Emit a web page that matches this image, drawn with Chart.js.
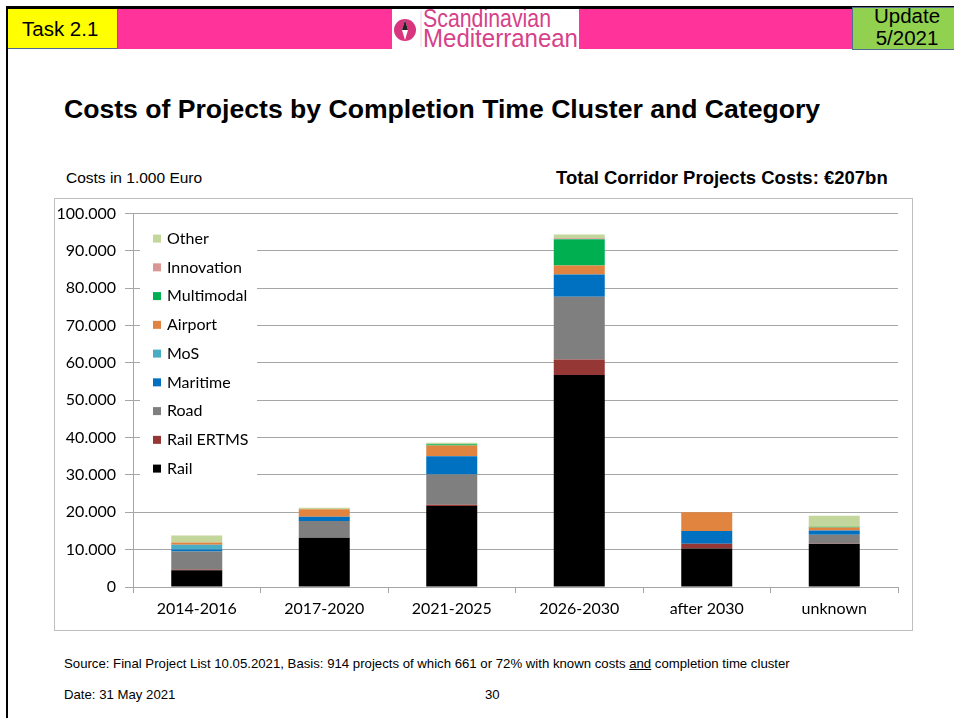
<!DOCTYPE html>
<html>
<head>
<meta charset="utf-8">
<script src="https://cdn.jsdelivr.net/npm/chart.js@4.4.1/dist/chart.umd.min.js"></script>
<style>
    html, body { margin: 0; padding: 0; background: #fff; }
    body { width: 954px; height: 718px; position: relative; overflow: hidden; font-family: "Liberation Sans", Arial, sans-serif; }
    .abs { position: absolute; }
    #topline { left: 6px; top: 6px; width: 948px; height: 3px; background: #000; }
    #leftline { left: 6px; top: 6px; width: 2px; height: 712px; background: #000; }
    #band { left: 8px; top: 9px; width: 946px; height: 40px; background: #ff3399; }
    #task { left: 8px; top: 9px; width: 109px; height: 39px; background: #ffff00; border-right: 1px solid #4f6b8f; border-bottom: 1px solid #4f6b8f;
            font-size: 20.5px; line-height: 40px; text-indent: 14px; color: #000; }
    #update { left: 852px; top: 7px; width: 102px; height: 41px; background: #92d050; border-left: 1px solid #4f6b8f; border-bottom: 1px solid #4f6b8f; border-top: 1px solid #4f6b8f;
              overflow: hidden; text-align: center; font-size: 20.5px; line-height: 22px; color: #000; }
    #update div { margin-top: -3px; padding-left: 6px; }
    #logo { left: 392px; top: 9px; width: 187px; height: 40px; background: #fff; }
    #title { left: 64px; top: 94px; font-size: 26.6px; font-weight: bold; color: #000; white-space: nowrap; }
    #unit { left: 66px; top: 169px; font-size: 15.5px; color: #000; }
    #total { left: 556px; top: 167px; font-size: 18.5px; font-weight: bold; color: #000; white-space: nowrap; }
    #frame { left: 54px; top: 198px; width: 857px; height: 431px; border: 1px solid #bfbfbf; }
    #chartBox { left: 54px; top: 195px; width: 858px; height: 435px; }
    #source { left: 64px; top: 656px; font-size: 13.2px; color: #000; white-space: nowrap; }
    #date { left: 64px; top: 687px; font-size: 13.2px; color: #000; }
    #page { left: 485px; top: 687px; font-size: 13.2px; color: #000; }
</style>
</head>
<body>
<div class="abs" id="band"></div>
<div class="abs" id="topline"></div>
<div class="abs" id="leftline"></div>
<div class="abs" id="task">Task 2.1</div>
<div class="abs" id="update"><div>Update<br>5/2021</div></div>
<svg class="abs" id="logo" width="187" height="40" viewBox="0 0 187 40">
    <rect x="0" y="0" width="187" height="40" fill="#fff"/>
    <circle cx="13" cy="21" r="11" fill="#d9357e"/>
    <polygon points="13,11 16,21 13,31 10,21" fill="#fff"/>
    <polygon points="13,11 16,21 10,21" fill="#222"/>
    <line x1="29" y1="2" x2="29" y2="38" stroke="#f3d0de" stroke-width="1"/>
    <text x="31" y="18" font-family="Liberation Sans, Arial" font-size="25" fill="#d6428a" textLength="128" lengthAdjust="spacingAndGlyphs">Scandinavian</text>
    <text x="31" y="38" font-family="Liberation Sans, Arial" font-size="25" fill="#d6428a" textLength="155" lengthAdjust="spacingAndGlyphs">Mediterranean</text>
</svg>

<div class="abs" id="title">Costs of Projects by Completion Time Cluster and Category</div>
<div class="abs" id="unit">Costs in 1.000 Euro</div>
<div class="abs" id="total">Total Corridor Projects Costs: €207bn</div>
<div class="abs" id="frame"></div>
<div class="abs" id="chartBox"><canvas id="costsChart" width="858" height="435"></canvas></div>
<div class="abs" id="source">Source: Final Project List 10.05.2021, Basis: 914 projects of which 661 or 72% with known costs <u>and</u> completion time cluster</div>
<div class="abs" id="date">Date: 31 May 2021</div>
<div class="abs" id="page">30</div>

<script>
// ====================================================================
// DADOS (custos em 1.000 Euro)
// ====================================================================
const clusters = ['2014-2016', '2017-2020', '2021-2025', '2026-2030', 'after 2030', 'unknown'];

const rail       = [4500, 13200, 21700, 56800, 10300, 11500];
const railErtms  = [200, 0, 300, 4100, 1300, 100];
const road       = [4800, 4500, 8100, 16800, 0, 2400];
const maritime   = [550, 1100, 4900, 6000, 3400, 1150];
const mos        = [1250, 0, 0, 0, 0, 0];
const airport    = [600, 2000, 2900, 2400, 5000, 800];
const multimodal = [0, 0, 300, 7000, 0, 200];
const innovation = [0, 0, 0, 300, 0, 0];
const other      = [1900, 400, 400, 1000, 0, 2900];

const yTicks = [0, 10000, 20000, 30000, 40000, 50000, 60000, 70000, 80000, 90000, 100000];

// ====================================================================
// SÉRIES
// ====================================================================
const series = [
    { label: 'Rail', data: rail, color: '#000000' },
    { label: 'Rail ERTMS', data: railErtms, color: '#953735' },
    { label: 'Road', data: road, color: '#7f7f7f' },
    { label: 'Maritime', data: maritime, color: '#0070c0' },
    { label: 'MoS', data: mos, color: '#4bacc6' },
    { label: 'Airport', data: airport, color: '#e0843f' },
    { label: 'Multimodal', data: multimodal, color: '#00b050' },
    { label: 'Innovation', data: innovation, color: '#d99694' },
    { label: 'Other', data: other, color: '#c3d69b' }
];

const gridColor = '#a6a6a6';
const tickFont = { family: 'Lato', size: 16 };

// Legenda dentro da área do gráfico (ordem invertida, fundo branco)
const insideLegend = {
    id: 'insideLegend',
    afterDraw(chart) {
        const c = chart.ctx;
        const left = chart.chartArea.left;
        const top = chart.chartArea.top;
        c.save();
        c.fillStyle = '#fff';
        c.fillRect(left + 7, top + 8, 117, 264);
        c.font = '16px Lato';
        c.textBaseline = 'middle';
        const items = chart.data.datasets.slice().reverse();
        items.forEach((ds, i) => {
            const y = top + 25 + i * 28.75;
            c.fillStyle = ds.backgroundColor;
            c.fillRect(left + 20, y - 4, 8, 8);
            c.fillStyle = '#000';
            c.fillText(ds.label, left + 34, y);
        });
        c.restore();
    }
};

new Chart(document.getElementById('costsChart').getContext('2d'), {
    type: 'bar',
    data: {
        labels: clusters,
        datasets: series.map(s => ({
            label: s.label,
            data: s.data,
            backgroundColor: s.color,
            borderWidth: 0,
            categoryPercentage: 1.0,
            barPercentage: 0.4
        }))
    },
    options: {
        responsive: false,
        animation: false,
        layout: { padding: { top: 0, right: 14, bottom: 0, left: 0 } },
        plugins: {
            legend: { display: false },
            tooltip: { enabled: false }
        },
        scales: {
            x: {
                stacked: true,
                afterFit(scale) { scale.height = 43; },
                grid: { drawOnChartArea: false, drawTicks: true, tickLength: 6, color: gridColor },
                border: { color: gridColor },
                ticks: { color: '#000', font: tickFont, padding: 6 }
            },
            y: {
                stacked: true,
                min: 0,
                max: 100000,
                afterFit(scale) { scale.width = 79; },
                afterBuildTicks(scale) { scale.ticks = yTicks.map(v => ({ value: v })); },
                grid: { color: gridColor, tickLength: 8 },
                border: { color: gridColor },
                ticks: {
                    color: '#000',
                    font: tickFont,
                    padding: 9,
                    callback: v => v === 0 ? '0' : v.toLocaleString('de-DE')
                }
            }
        }
    },
    plugins: [insideLegend]
});
</script>
</body>
</html>
